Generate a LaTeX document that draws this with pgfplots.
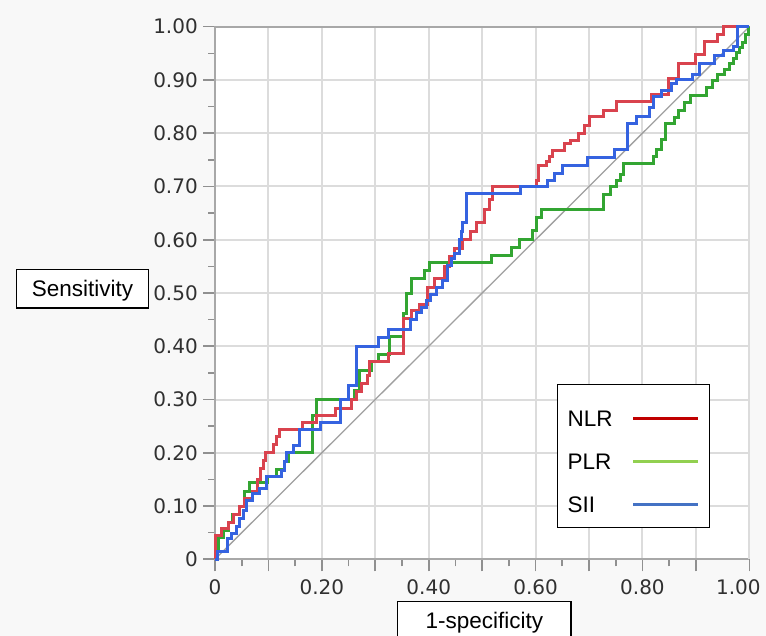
\documentclass[border=0pt]{standalone}
\usepackage{pgfplots}
\pgfplotsset{compat=1.18}
\usepackage{fontspec}
\setmainfont{Liberation Sans}
\newfontfamily\tickfont{DejaVu Sans}
\definecolor{bg}{HTML}{F8F8F8}
\definecolor{gridgray}{HTML}{DCDCDC}
\definecolor{axisgray}{HTML}{A8A8A8}
\definecolor{tickgray}{HTML}{909090}
\definecolor{labgray}{HTML}{303030}
\definecolor{diaggray}{HTML}{A0A0A0}
\definecolor{cNLR}{HTML}{D9434E}
\definecolor{cPLR}{HTML}{33A532}
\definecolor{cSII}{HTML}{3563E0}
\definecolor{lNLR}{HTML}{C00000}
\definecolor{lPLR}{HTML}{92D050}
\definecolor{lSII}{HTML}{4472C4}

\pgfplotstableread{
x y
0 0
0 0.044
0.0125 0.044
0.0125 0.058
0.025 0.058
0.025 0.07
0.035 0.07
0.035 0.085
0.045 0.085
0.045 0.1
0.055 0.1
0.055 0.114
0.07 0.114
0.07 0.128
0.08 0.128
0.08 0.15
0.085 0.15
0.085 0.17
0.09 0.17
0.09 0.185
0.095 0.185
0.095 0.2
0.11 0.2
0.11 0.215
0.115 0.215
0.115 0.23
0.12 0.23
0.12 0.243
0.164 0.243
0.164 0.257
0.19 0.257
0.19 0.27
0.225 0.27
0.225 0.284
0.255 0.284
0.255 0.3
0.265 0.3
0.265 0.315
0.275 0.315
0.275 0.33
0.285 0.33
0.285 0.345
0.29 0.345
0.29 0.372
0.325 0.372
0.325 0.387
0.352 0.387
0.352 0.453
0.368 0.453
0.368 0.468
0.382 0.468
0.382 0.478
0.398 0.478
0.398 0.511
0.41 0.511
0.41 0.527
0.429 0.527
0.429 0.549
0.439 0.549
0.439 0.568
0.448 0.568
0.448 0.584
0.464 0.584
0.464 0.6
0.479 0.6
0.479 0.616
0.489 0.616
0.489 0.632
0.504 0.632
0.504 0.657
0.514 0.657
0.514 0.676
0.52 0.676
0.52 0.70
0.601 0.70
0.601 0.712
0.606 0.712
0.606 0.74
0.62 0.74
0.62 0.746
0.626 0.746
0.626 0.756
0.632 0.756
0.632 0.768
0.654 0.768
0.654 0.78
0.666 0.78
0.666 0.786
0.681 0.786
0.681 0.80
0.691 0.80
0.691 0.815
0.70 0.815
0.70 0.831
0.727 0.831
0.727 0.843
0.751 0.843
0.751 0.859
0.817 0.859
0.817 0.873
0.848 0.873
0.848 0.902
0.868 0.902
0.868 0.93
0.9 0.93
0.9 0.948
0.916 0.948
0.916 0.973
0.941 0.973
0.941 0.986
0.951 0.986
0.951 1
1 1
}\nlr

\pgfplotstableread{
x y
0 0
0 0.02
0.006 0.02
0.006 0.04
0.015 0.04
0.015 0.055
0.025 0.055
0.025 0.07
0.032 0.07
0.032 0.085
0.045 0.085
0.045 0.1
0.055 0.1
0.055 0.128
0.065 0.128
0.065 0.144
0.099 0.144
0.099 0.155
0.115 0.155
0.115 0.168
0.13 0.168
0.13 0.183
0.137 0.183
0.137 0.2
0.1825 0.2
0.1825 0.27
0.19 0.27
0.19 0.3
0.262 0.3
0.262 0.317
0.271 0.317
0.271 0.355
0.293 0.355
0.293 0.371
0.306 0.371
0.306 0.384
0.3275 0.384
0.3275 0.4175
0.3525 0.4175
0.3525 0.461
0.359 0.461
0.359 0.499
0.367 0.499
0.367 0.527
0.392 0.527
0.392 0.543
0.401 0.543
0.401 0.557
0.517 0.557
0.517 0.57
0.555 0.57
0.555 0.586
0.57 0.586
0.57 0.601
0.595 0.601
0.595 0.617
0.601 0.617
0.601 0.641
0.612 0.641
0.612 0.657
0.728 0.657
0.728 0.685
0.74 0.685
0.74 0.70
0.752 0.70
0.752 0.712
0.759 0.712
0.759 0.722
0.765 0.722
0.765 0.744
0.82 0.744
0.82 0.757
0.826 0.757
0.826 0.769
0.835 0.769
0.835 0.788
0.844 0.788
0.844 0.819
0.86 0.819
0.86 0.83
0.868 0.83
0.868 0.843
0.878 0.843
0.878 0.858
0.89 0.858
0.89 0.871
0.919 0.871
0.919 0.886
0.932 0.886
0.932 0.899
0.94 0.899
0.94 0.911
0.954 0.911
0.954 0.92
0.963 0.92
0.963 0.93
0.97 0.93
0.97 0.94
0.976 0.94
0.976 0.952
0.982 0.952
0.982 0.961
0.988 0.961
0.988 0.97
0.993 0.97
0.993 0.985
0.998 0.985
0.998 1
1 1
}\plr

\pgfplotstableread{
x y
0 0
0.004 0
0.004 0.014
0.0225 0.014
0.0225 0.039
0.031 0.039
0.031 0.049
0.04 0.049
0.04 0.061
0.046 0.061
0.046 0.077
0.0525 0.077
0.0525 0.0925
0.059 0.0925
0.059 0.111
0.071 0.111
0.071 0.124
0.084 0.124
0.084 0.133
0.096 0.133
0.096 0.155
0.124 0.155
0.124 0.1675
0.13 0.1675
0.13 0.183
0.134 0.183
0.134 0.2
0.146 0.2
0.146 0.214
0.159 0.214
0.159 0.243
0.197 0.243
0.197 0.256
0.234 0.256
0.234 0.3
0.25 0.3
0.25 0.327
0.265 0.327
0.265 0.4
0.306 0.4
0.306 0.416
0.324 0.416
0.324 0.432
0.365 0.432
0.365 0.451
0.377 0.451
0.377 0.464
0.386 0.464
0.386 0.473
0.396 0.473
0.396 0.486
0.404 0.486
0.404 0.498
0.414 0.498
0.414 0.511
0.426 0.511
0.426 0.524
0.436 0.524
0.436 0.552
0.442 0.552
0.442 0.565
0.448 0.565
0.448 0.575
0.4575 0.575
0.4575 0.6
0.461 0.6
0.461 0.616
0.464 0.616
0.464 0.632
0.47 0.632
0.47 0.687
0.571 0.687
0.571 0.70
0.623 0.70
0.623 0.712
0.635 0.712
0.635 0.725
0.651 0.725
0.651 0.74
0.697 0.74
0.697 0.754
0.748 0.754
0.748 0.77
0.772 0.77
0.772 0.819
0.789 0.819
0.789 0.831
0.814 0.831
0.814 0.849
0.82 0.849
0.82 0.868
0.835 0.868
0.835 0.88
0.854 0.88
0.854 0.893
0.863 0.893
0.863 0.9
0.894 0.9
0.894 0.911
0.906 0.911
0.906 0.93
0.935 0.93
0.935 0.945
0.951 0.945
0.951 0.955
0.97 0.955
0.97 0.963
0.977 0.963
0.977 1
1 1
}\sii

\begin{document}
\begin{tikzpicture}
\path[fill=bg, use as bounding box] (0,0) rectangle (766bp,636bp);
\begin{axis}[
  at={(215bp,76.7bp)}, anchor=south west,
  width=534.3bp, height=532.6bp, scale only axis,
  xmin=0, xmax=1, ymin=0, ymax=1,
  clip=false,
  axis background/.style={fill=white},
  axis line style={line width=1.8bp, draw=axisgray},
  xtick={0,0.1,0.2,0.3,0.4,0.5,0.6,0.7,0.8,0.9},
  xticklabels={0,,0.20,,0.40,,0.60,,0.80,},
  extra x ticks={1},
  extra x tick labels={1.00},
  extra x tick style={xticklabel style={xshift=-11bp}},
  ytick={0,0.1,0.2,0.3,0.4,0.5,0.6,0.7,0.8,0.9,1},
  yticklabels={0,0.10,0.20,0.30,0.40,0.50,0.60,0.70,0.80,0.90,1.00},
  minor x tick num=1, minor y tick num=1,
  tick pos=left, tick align=outside,
  major tick length=12bp, minor tick length=7bp,
  every tick/.style={line width=1.6bp, draw=tickgray},
  grid=major,
  major grid style={line width=2bp, draw=gridgray},
  /pgf/number format/assume math mode=true,
  ticklabel style={font=\tickfont\fontsize{20bp}{24bp}\selectfont, text=labgray},
  xticklabel style={inner sep=0pt, yshift=-8bp},
  yticklabel style={inner sep=0pt, xshift=-5bp},
  xlabel={1-specificity},
  xlabel style={at={(axis description cs:0.504,-0.1157)}, anchor=center,
    draw=black, line width=1.2bp, fill=white, inner sep=0pt,
    minimum width=173.4bp, minimum height=38.4bp,
    text height=16bp, text depth=0bp,
    font=\fontsize{22.5bp}{27bp}\selectfont},
  ylabel={Sensitivity},
  ylabel style={rotate=-90, at={(axis description cs:-0.248,0.508)}, anchor=center,
    draw=black, line width=1.2bp, fill=white, inner sep=0pt,
    minimum width=131.6bp, minimum height=38.4bp,
    text height=16bp, text depth=0bp,
    font=\fontsize{22.5bp}{27bp}\selectfont},
  legend plot pos=right,
  legend cell align=left,
  legend image code/.code={\draw[#1] (0bp,-5bp) -- (56bp,-5bp); \path (56bp,-5bp) -- (65bp,-5bp);},
  legend style={at={(axis cs:0.640,0.329)}, anchor=north west,
    draw=black, line width=1.2bp, fill=white,
    inner xsep=10bp, inner ysep=15bp,
    row sep=16bp, column sep=19bp,
    font=\fontsize{22.5bp}{27bp}\selectfont,
    nodes={inner sep=0pt, text height=27bp, text depth=0bp}},
]
\addlegendimage{lNLR, line width=3.2bp}
\addlegendentry{NLR}
\addlegendimage{lPLR, line width=3.2bp}
\addlegendentry{PLR}
\addlegendimage{lSII, line width=3.2bp}
\addlegendentry{SII}
\addplot[forget plot, diaggray, line width=1.3bp] coordinates {(0,0) (1,1)};
\addplot[forget plot, cPLR, line width=3bp] table[x=x, y=y] {\plr};
\addplot[forget plot, cNLR, line width=3bp] table[x=x, y=y] {\nlr};
\addplot[forget plot, cSII, line width=3bp] table[x=x, y=y] {\sii};
\end{axis}
\end{tikzpicture}
\end{document}
